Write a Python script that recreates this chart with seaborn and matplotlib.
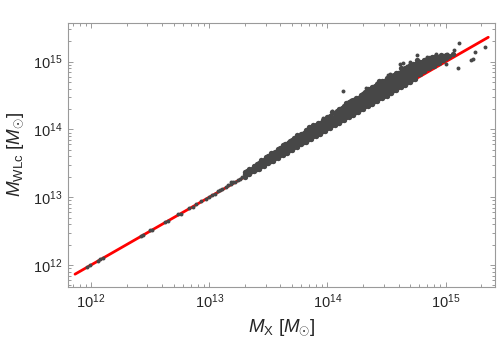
import numpy as np
import pandas as pd
import matplotlib
matplotlib.use("Agg")
import matplotlib.pyplot as plt
import seaborn as sns

# log10 masses (M_X on x, M_WLc on y)
# sparse low-mass haloes sitting on the 1:1 line
low_mx = [11.97, 11.99, 12.06, 12.08, 12.10, 12.42, 12.44, 12.50, 12.52, 12.63, 12.65,
          12.74, 12.76, 12.83, 12.86, 12.89, 12.93, 12.97, 13.00, 13.02, 13.05, 13.07,
          13.09, 13.11, 13.14, 13.16, 13.18, 13.20, 13.22, 13.24, 13.26, 13.28]
low_wl = [11.97, 12.00, 12.06, 12.09, 12.10, 12.43, 12.44, 12.51, 12.52, 12.64, 12.65,
          12.75, 12.76, 12.84, 12.86, 12.90, 12.94, 12.97, 13.01, 13.03, 13.05, 13.09,
          13.10, 13.12, 13.15, 13.18, 13.19, 13.22, 13.23, 13.26, 13.27, 13.30]

# dense band: x column -> y values in that column
mid_mx = [13.30, 13.32, 13.34, 13.36, 13.38, 13.40, 13.42, 13.44, 13.46, 13.48,
          13.50, 13.52, 13.54, 13.56, 13.58, 13.60, 13.62, 13.64, 13.66, 13.68,
          13.70, 13.72, 13.74, 13.76, 13.78, 13.80, 13.82, 13.84, 13.86, 13.88]
mid_wl = [
    [13.30, 13.34, 13.37], [13.34, 13.39], [13.34, 13.38, 13.41], [13.38, 13.42],
    [13.38, 13.42, 13.46], [13.42, 13.46, 13.49], [13.42, 13.46, 13.51], [13.46, 13.50, 13.55],
    [13.46, 13.50, 13.55], [13.50, 13.54, 13.59],
    [13.50, 13.54, 13.59, 13.61], [13.54, 13.58, 13.63, 13.65], [13.54, 13.58, 13.63, 13.66],
    [13.58, 13.62, 13.67], [13.58, 13.62, 13.67, 13.71], [13.62, 13.66, 13.71, 13.73],
    [13.62, 13.66, 13.71, 13.77], [13.66, 13.70, 13.75, 13.78], [13.66, 13.70, 13.75, 13.79],
    [13.70, 13.74, 13.79, 13.83],
    [13.70, 13.74, 13.79, 13.84], [13.74, 13.78, 13.83, 13.87], [13.74, 13.78, 13.83, 13.87, 13.92],
    [13.78, 13.82, 13.87, 13.91], [13.78, 13.82, 13.87, 13.91, 13.94], [13.82, 13.86, 13.91, 13.95],
    [13.82, 13.86, 13.91, 13.95, 13.99], [13.86, 13.90, 13.95, 13.99, 14.04],
    [13.86, 13.90, 13.95, 13.99, 14.03], [13.90, 13.94, 13.99, 14.03, 14.06],
]

high_mx = [13.90, 13.92, 13.94, 13.96, 13.98, 14.00, 14.02, 14.04, 14.06, 14.08,
           14.10, 14.12, 14.14, 14.16, 14.18, 14.20, 14.22, 14.24, 14.26, 14.28,
           14.30, 14.32, 14.34, 14.36, 14.38, 14.40, 14.42, 14.44, 14.46, 14.48]
high_wl = [
    [13.90, 13.94, 13.99, 14.03, 14.07], [13.94, 13.98, 14.03, 14.07, 14.10],
    [13.94, 13.98, 14.03, 14.07, 14.10], [13.98, 14.02, 14.07, 14.11, 14.14],
    [13.98, 14.02, 14.07, 14.11, 14.16], [14.02, 14.06, 14.11, 14.15, 14.19],
    [14.02, 14.06, 14.11, 14.15, 14.20], [14.06, 14.10, 14.15, 14.19, 14.26],
    [14.06, 14.10, 14.15, 14.19, 14.24], [14.10, 14.14, 14.19, 14.23, 14.27],
    [14.10, 14.14, 14.19, 14.23, 14.28, 14.30], [14.14, 14.18, 14.23, 14.27, 14.32],
    [14.14, 14.18, 14.23, 14.27, 14.32, 14.35], [14.18, 14.22, 14.27, 14.31, 14.39],
    [14.18, 14.22, 14.27, 14.31, 14.36, 14.40], [14.22, 14.26, 14.31, 14.35, 14.40, 14.42],
    [14.22, 14.26, 14.31, 14.35, 14.40, 14.44], [14.26, 14.30, 14.35, 14.39, 14.44, 14.47],
    [14.26, 14.30, 14.35, 14.39, 14.44, 14.47], [14.30, 14.34, 14.39, 14.43, 14.48, 14.51],
    [14.30, 14.34, 14.39, 14.43, 14.48, 14.53], [14.34, 14.38, 14.43, 14.47, 14.52, 14.55],
    [14.34, 14.38, 14.43, 14.47, 14.52, 14.60], [14.38, 14.42, 14.47, 14.51, 14.56, 14.60],
    [14.38, 14.42, 14.47, 14.51, 14.56, 14.61, 14.63], [14.42, 14.46, 14.51, 14.55, 14.60, 14.64],
    [14.42, 14.46, 14.51, 14.55, 14.60, 14.65, 14.67], [14.46, 14.50, 14.55, 14.59, 14.64, 14.71],
    [14.46, 14.50, 14.55, 14.59, 14.64, 14.69, 14.71], [14.50, 14.54, 14.59, 14.63, 14.68, 14.72],
]

top_mx = [14.50, 14.52, 14.54, 14.56, 14.58, 14.60, 14.62, 14.64, 14.66, 14.68,
          14.70, 14.72, 14.74, 14.76, 14.78, 14.80, 14.82, 14.84, 14.86, 14.88,
          14.90, 14.92, 14.94, 14.96, 14.98, 15.00, 15.03, 15.06]
top_wl = [
    [14.50, 14.54, 14.59, 14.63, 14.68, 14.73, 14.76], [14.54, 14.58, 14.63, 14.67, 14.72, 14.76],
    [14.54, 14.58, 14.63, 14.67, 14.72, 14.78], [14.58, 14.62, 14.67, 14.71, 14.76, 14.80],
    [14.58, 14.62, 14.67, 14.71, 14.76, 14.81, 14.84], [14.62, 14.66, 14.71, 14.75, 14.80, 14.84],
    [14.62, 14.66, 14.71, 14.75, 14.80, 14.85, 14.90], [14.66, 14.70, 14.75, 14.79, 14.84, 14.89],
    [14.66, 14.70, 14.75, 14.79, 14.84, 14.89, 14.91], [14.70, 14.74, 14.79, 14.83, 14.88, 14.92],
    [14.70, 14.74, 14.79, 14.83, 14.88, 14.93, 14.95], [14.74, 14.78, 14.83, 14.87, 14.92, 14.96],
    [14.74, 14.78, 14.83, 14.87, 14.92, 14.97], [14.82, 14.87, 14.91, 14.96, 15.02],
    [14.82, 14.87, 14.91, 14.96, 15.00], [14.86, 14.91, 14.95, 15.00],
    [14.86, 14.91, 14.95, 15.00, 15.03], [14.90, 14.95, 14.99, 15.04],
    [14.90, 14.95, 14.99, 15.05], [14.94, 14.99, 15.03, 15.07],
    [14.94, 14.99, 15.03, 15.07], [14.98, 15.03, 15.07, 15.09],
    [14.98, 15.03, 15.07], [15.02, 15.07, 15.10],
    [15.03, 15.08], [15.06, 15.10], [15.09], [15.11],
]

# scattered points off the band
out_mx = [13.18, 13.50, 13.67, 13.82, 13.96, 14.04, 14.13, 14.13, 14.20, 14.21, 14.30,
          14.33, 14.42, 14.51, 14.53, 14.55, 14.61, 14.64, 14.67, 14.70, 14.76, 14.84,
          14.88, 14.92, 15.00, 15.01, 15.07, 15.10, 15.11, 15.21, 15.23, 15.25, 15.33]
out_wl = [13.22, 13.61, 13.81, 13.93, 14.17, 14.27, 14.32, 14.57, 14.44, 14.43, 14.54,
          14.61, 14.69, 14.81, 14.82, 14.80, 14.96, 14.98, 14.94, 14.99, 15.10, 15.07,
          15.06, 15.11, 14.97, 15.11, 15.17, 14.90, 15.27, 15.02, 15.04, 15.15, 15.21]

# one-to-one line endpoints (log10 M)
line_m = [11.865, 15.36]

# expand the band columns into flat lists
band_x, band_y = [], []
for cols, vals in [(mid_mx, mid_wl), (high_mx, high_wl), (top_mx, top_wl)]:
    for c, v in zip(cols, vals):
        band_x += [c] * len(v)
        band_y += v

band_df = pd.DataFrame({"mx": 10 ** np.array(band_x), "wl": 10 ** np.array(band_y)})
sparse_df = pd.DataFrame({"mx": 10 ** np.array(low_mx + out_mx),
                          "wl": 10 ** np.array(low_wl + out_wl)})
line_df = pd.DataFrame({"m": 10 ** np.array(line_m)})

sns.set_style("ticks")
plt.rcParams["font.family"] = ["Liberation Sans", "DejaVu Sans"]
plt.rcParams["mathtext.fontset"] = "custom"
plt.rcParams["mathtext.rm"] = "Liberation Sans"
plt.rcParams["mathtext.it"] = "Liberation Sans:italic"

fig = plt.figure(figsize=(5, 3.43), dpi=100)
ax = fig.add_axes([0.1366, 0.1641, 0.8534, 0.7697])
ax.set_xscale("log")
ax.set_yscale("log")

dot = "#474747"
sns.lineplot(data=line_df, x="m", y="m", color="red", lw=2, ax=ax, zorder=2)
sns.scatterplot(data=band_df, x="mx", y="wl", s=15, color=dot, linewidth=0, ax=ax, zorder=3)
sns.scatterplot(data=sparse_df, x="mx", y="wl", s=8, color=dot, linewidth=0, ax=ax, zorder=3)

ax.set_xlim(10 ** 11.808, 10 ** 15.417)
ax.set_ylim(10 ** 11.68, 10 ** 15.575)

# frame and ticks
for sp in ax.spines.values():
    sp.set_color("#9a9a9a")
    sp.set_linewidth(0.8)
ax.tick_params(which="both", direction="in", top=True, right=True, color="#9a9a9a",
               width=0.7, labelsize=10.5, pad=4)
ax.tick_params(which="major", length=3.5)
ax.tick_params(which="minor", length=2)

ax.set_xlabel(r"$M_{\mathrm{X}}\ [M_{\odot}]$", fontsize=13.5, labelpad=5)
ax.set_ylabel(r"$M_{\mathrm{WLc}}\ [M_{\odot}]$", fontsize=13.5, labelpad=5)

fig.savefig("out.png", dpi=100)
